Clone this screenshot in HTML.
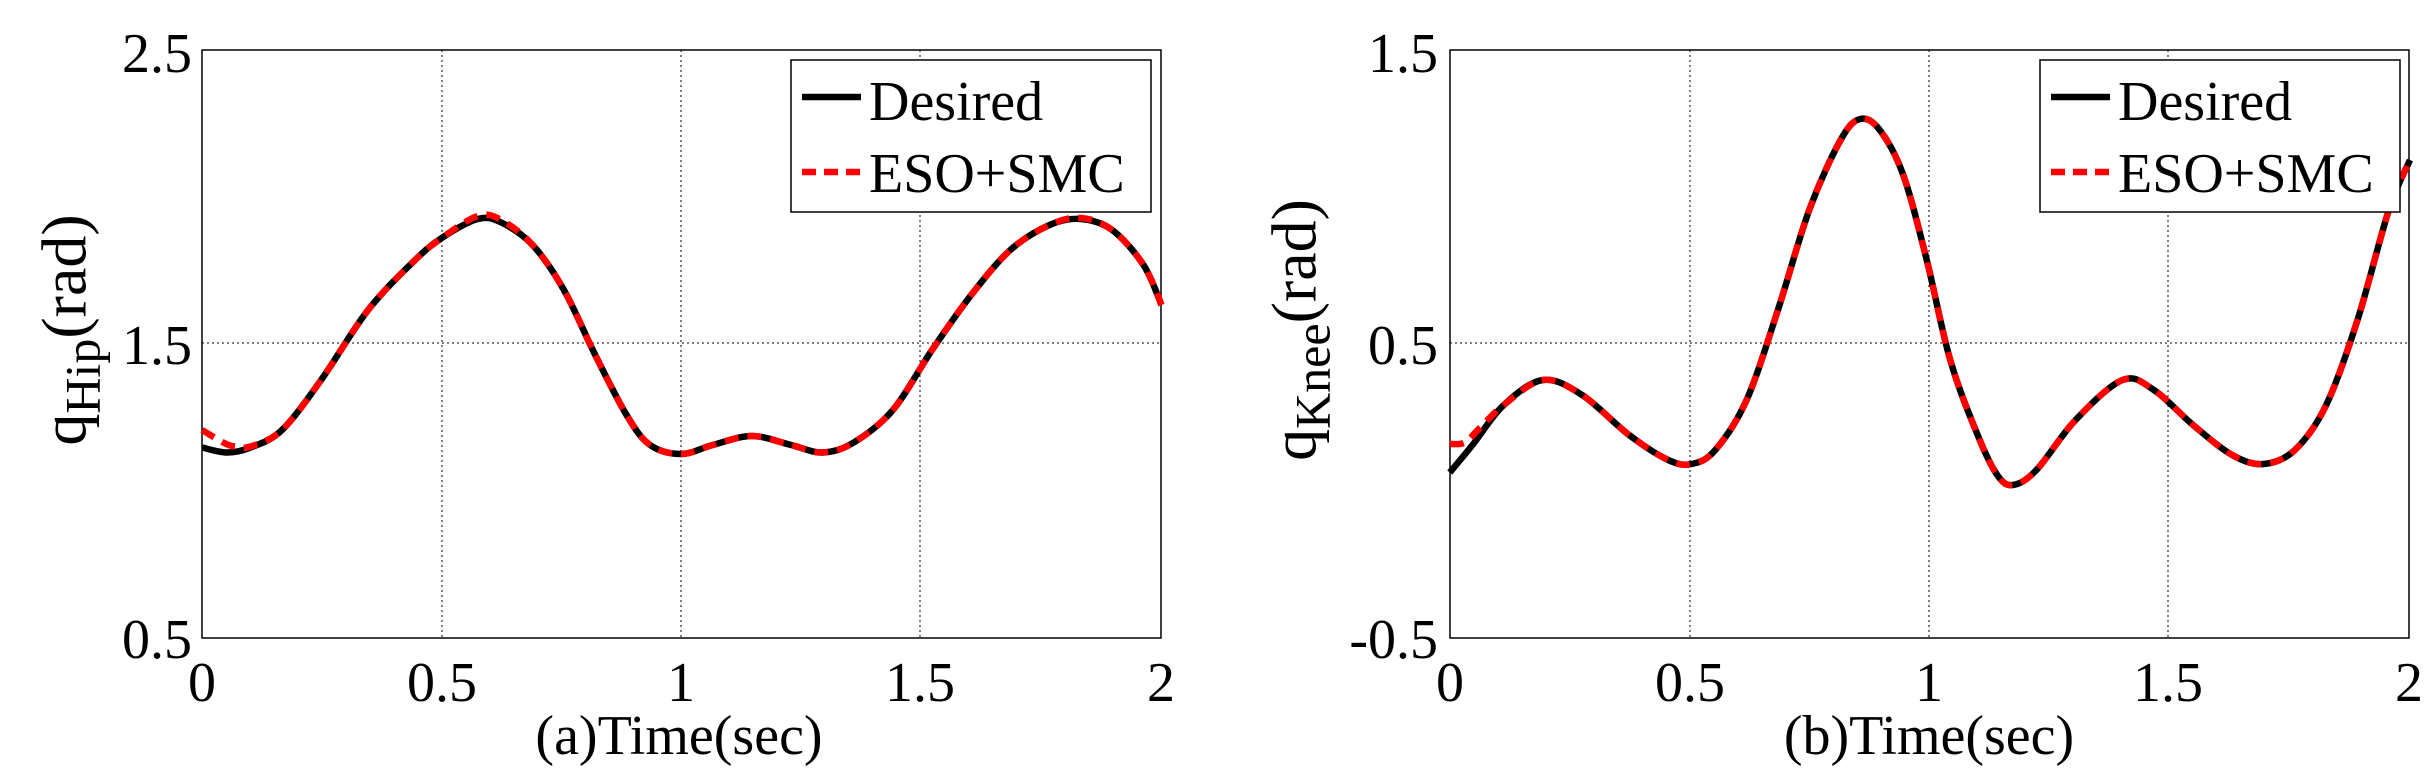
<!DOCTYPE html>
<html><head><meta charset="utf-8"><style>
body{margin:0;background:#fff;width:2428px;height:776px;overflow:hidden;position:relative;font-family:"Liberation Serif",serif;}
.t{position:absolute;font-size:56px;color:#000;line-height:1;white-space:nowrap;}
.yl{font-size:64px;}
svg{position:absolute;top:0;}
</style></head><body>
<svg width="2428" height="776" style="left:0">
<g fill="none" stroke="#000">
<rect x="202" y="50" width="959" height="588" stroke-width="1.5"/>
<g stroke-dasharray="2,3" stroke-width="1">
<line x1="442" y1="50" x2="442" y2="638"/><line x1="681" y1="50" x2="681" y2="638"/><line x1="920" y1="50" x2="920" y2="638"/><line x1="202" y1="343" x2="1161" y2="343"/>
<line x1="1690" y1="50" x2="1690" y2="638"/><line x1="1929" y1="50" x2="1929" y2="638"/><line x1="2168" y1="50" x2="2168" y2="638"/><line x1="1450" y1="343" x2="2409" y2="343"/>
</g>
<rect x="1450" y="50" width="959" height="588" stroke-width="1.5"/>
</g>
</svg>
<svg width="1214" height="776" style="left:0" viewBox="0 0 1550 1552" preserveAspectRatio="none">
<path class="c" fill="none" stroke="#000" stroke-width="6.5" vector-effect="non-scaling-stroke" data-p="258,895 290,905 320,895 360,860 410,760 470,620 530,520 565,475 610,438 640,445 680,490 720,580 760,710 800,830 830,890 870,908 910,890 960,872 1010,890 1050,905 1090,885 1140,820 1190,700 1240,590 1290,500 1340,450 1380,438 1420,460 1460,530 1483,610"/>
<path class="c" fill="none" stroke="#f00" stroke-width="6.5" stroke-dasharray="14,9" vector-effect="non-scaling-stroke" data-p="258,860 285,885 300,893 320,893 360,860 410,760 470,620 530,520 565,475 610,432 640,440 680,490 720,580 760,710 800,830 830,890 870,908 910,890 960,872 1010,890 1050,905 1090,885 1140,820 1190,700 1240,590 1290,500 1340,450 1380,436 1420,460 1460,530 1483,610"/>
</svg>
<svg width="1214" height="776" style="left:1214px" viewBox="0 0 1550 1552" preserveAspectRatio="none">
<path class="c" fill="none" stroke="#000" stroke-width="6.5" vector-effect="non-scaling-stroke" data-p="301,945 330,890 370,810 420,760 470,790 530,870 580,920 610,928 640,900 680,800 720,620 760,420 800,280 825,238 850,260 880,350 910,520 940,720 975,870 1000,950 1020,970 1050,940 1100,840 1160,760 1200,780 1250,850 1300,910 1340,928 1380,900 1420,810 1460,640 1500,420 1527,320"/>
<path class="c" fill="none" stroke="#f00" stroke-width="6.5" stroke-dasharray="14,9" vector-effect="non-scaling-stroke" data-p="301,888 320,885 340,855 370,810 420,760 470,790 530,870 580,920 610,928 640,900 680,800 720,620 760,420 800,280 825,238 850,260 880,350 910,520 940,720 975,870 1000,950 1020,970 1050,940 1100,840 1160,760 1200,780 1250,850 1300,910 1340,928 1380,900 1420,810 1460,640 1500,420 1527,320"/>
</svg>
<svg width="2428" height="776" style="left:0">
<rect x="791" y="60" width="360" height="152" fill="#fff" stroke="#000" stroke-width="1.5"/>
<line x1="802" y1="97" x2="861" y2="97" stroke="#000" stroke-width="6.5"/>
<line x1="802" y1="172" x2="861" y2="172" stroke="#f00" stroke-width="6.5" stroke-dasharray="14,8"/>
<rect x="2040" y="60" width="360" height="152" fill="#fff" stroke="#000" stroke-width="1.5"/>
<line x1="2051" y1="97" x2="2110" y2="97" stroke="#000" stroke-width="6.5"/>
<line x1="2051" y1="172" x2="2110" y2="172" stroke="#f00" stroke-width="6.5" stroke-dasharray="14,8"/>
</svg>
<div class="t" style="left:869px;top:74px">Desired</div>
<div class="t" style="left:869px;top:146px">ESO+SMC</div>
<div class="t" style="left:2118px;top:74px">Desired</div>
<div class="t" style="left:2118px;top:146px">ESO+SMC</div>
<div class="t" style="right:2236px;top:26px">2.5</div>
<div class="t" style="right:2236px;top:318px">1.5</div>
<div class="t" style="right:2236px;top:612px">0.5</div>
<div class="t" style="right:990px;top:26px">1.5</div>
<div class="t" style="right:990px;top:318px">0.5</div>
<div class="t" style="right:990px;top:612px">-0.5</div>
<div class="t" style="left:202px;top:655px;transform:translateX(-50%)">0</div>
<div class="t" style="left:442px;top:655px;transform:translateX(-50%)">0.5</div>
<div class="t" style="left:681px;top:655px;transform:translateX(-50%)">1</div>
<div class="t" style="left:920px;top:655px;transform:translateX(-50%)">1.5</div>
<div class="t" style="left:1161px;top:655px;transform:translateX(-50%)">2</div>
<div class="t" style="left:1450px;top:655px;transform:translateX(-50%)">0</div>
<div class="t" style="left:1690px;top:655px;transform:translateX(-50%)">0.5</div>
<div class="t" style="left:1929px;top:655px;transform:translateX(-50%)">1</div>
<div class="t" style="left:2168px;top:655px;transform:translateX(-50%)">1.5</div>
<div class="t" style="left:2409px;top:655px;transform:translateX(-50%)">2</div>
<div class="t" style="left:679px;top:708px;transform:translateX(-50%)">(a)Time(sec)</div>
<div class="t" style="left:1929px;top:708px;transform:translateX(-50%)">(b)Time(sec)</div>
<div class="t yl" style="left:70px;top:330px;transform:translate(-50%,-50%) rotate(-90deg)">q<sub style="font-size:50px">Hip</sub>(rad)</div>
<div class="t yl" style="left:1300px;top:330px;transform:translate(-50%,-50%) rotate(-90deg)">q<sub style="font-size:50px">Knee</sub>(rad)</div>
<script>
document.querySelectorAll('path.c').forEach(function(el){
  var p=el.getAttribute('data-p').trim().split(/\s+/).map(function(s){return s.split(',').map(Number);});
  var d='M'+p[0][0]+','+p[0][1];
  for(var i=0;i<p.length-1;i++){
    var p0=p[i-1]||p[i],p1=p[i],p2=p[i+1],p3=p[i+2]||p2;
    var c1=[p1[0]+(p2[0]-p0[0])/6,p1[1]+(p2[1]-p0[1])/6];
    var c2=[p2[0]-(p3[0]-p1[0])/6,p2[1]-(p3[1]-p1[1])/6];
    d+=' C'+c1[0]+','+c1[1]+' '+c2[0]+','+c2[1]+' '+p2[0]+','+p2[1];
  }
  el.setAttribute('d',d);
});
</script>
</body></html>
